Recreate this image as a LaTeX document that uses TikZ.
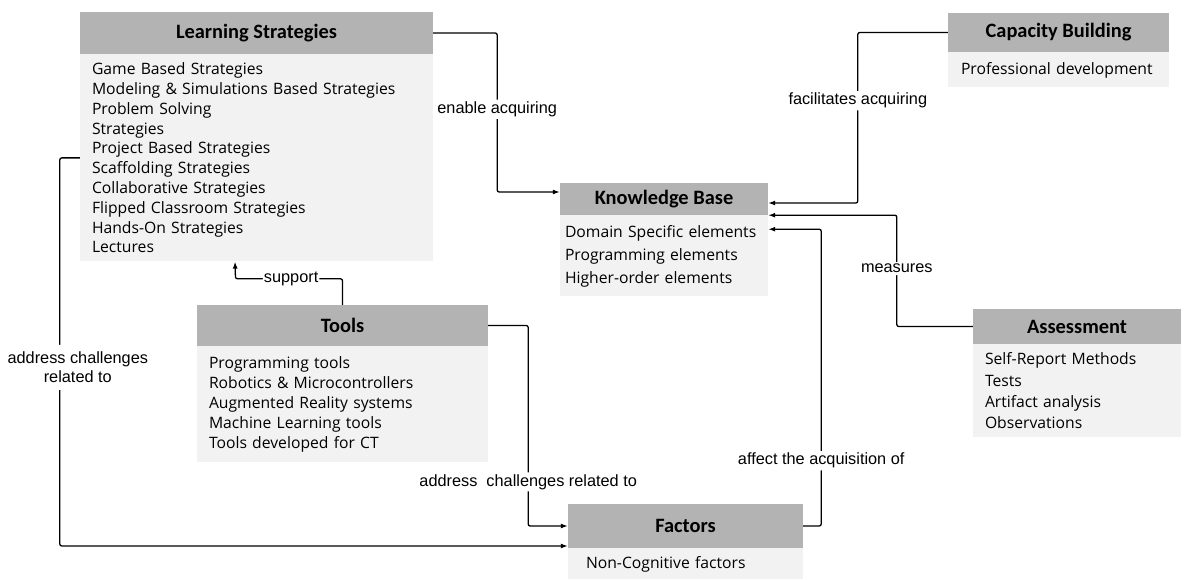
\documentclass[tikz,border=0pt]{standalone}
\usepackage{fontspec}
\usepackage{tikz}
\usetikzlibrary{arrows.meta,positioning}
\setmainfont{Liberation Sans}
\newfontfamily\boxfont{Open Sans}
\newfontfamily\headfont{Carlito}
\definecolor{headgray}{HTML}{B3B3B3}
\definecolor{bodygray}{HTML}{F2F2F2}
\tikzset{%
  >={Latex[width=5pt,length=7pt]},
  % Specifications for style of nodes:
      head/.style = {rectangle, fill=headgray, inner sep=0pt,
                     minimum height=#1, text centered,
                     font=\headfont\bfseries\fontsize{20.4}{24}\selectfont},
      body/.style = {rectangle, fill=bodygray, inner xsep=12pt, inner ysep=0pt,
                     align=left, anchor=north,
                     font=\boxfont\fontsize{15.7}{19.8}\selectfont},
      conn/.style = {->, line width=1.3pt, rounded corners=2pt},
     label/.style = {fill=white, inner sep=2pt,
                     font=\fontsize{16.3}{19}\selectfont},
}

\begin{document}
\begin{tikzpicture}[x=1pt, y=-1pt]
  \useasboundingbox (0,0) rectangle (1185,580);
  % Specification of nodes (header and list of each box)
  \node (lsHead) [head=42pt, minimum width=353pt] at (256.5,33) {Learning Strategies};
  \node (lsBody) [body, minimum height=207pt, text width=329pt, below=0pt of lsHead]
    {Game Based Strategies\\Modeling \& Simulations Based Strategies\\Problem Solving\\Strategies\\
     Project Based Strategies\\Scaffolding Strategies\\Collaborative Strategies\\
     Flipped Classroom Strategies\\Hands-On Strategies\\Lectures};
  \node (kbHead) [head=32pt, minimum width=208pt] at (664,199) {Knowledge Base};
  \node (kbBody) [body, minimum height=81pt, text width=198pt, inner xsep=5pt,
                  font=\boxfont\fontsize{15.7}{23}\selectfont, below=0pt of kbHead]
    {Domain Specific elements\\Programming elements\\Higher-order elements};
  \node (cbHead) [head=39pt, minimum width=221pt] at (1058.5,32.5) {Capacity Building};
  \node (cbBody) [body, minimum height=35pt, text width=195pt, inner xsep=13pt,
                  below=0pt of cbHead]
    {Professional development};
  \node (asHead) [head=35pt, minimum width=208pt] at (1077,326.5) {Assessment};
  \node (asBody) [body, minimum height=93pt, text width=184pt, below=0pt of asHead,
                  font=\boxfont\fontsize{15.7}{21.3}\selectfont]
    {Self-Report Methods\\Tests\\Artifact analysis\\Observations};
  \node (toHead) [head=41pt, minimum width=291pt] at (342.5,325.5) {Tools};
  \node (toBody) [body, minimum height=116pt, text width=267pt, below=0pt of toHead]
    {Programming tools\\Robotics \& Microcontrollers\\Augmented Reality systems\\
     Machine Learning tools\\Tools developed for CT\\[6pt]};
  \node (faHead) [head=44pt, minimum width=235pt] at (685.5,526) {Factors};
  \node (faBody) [body, minimum height=31pt, text width=199pt, inner xsep=18pt,
                  below=0pt of faHead]
    {Non-Cognitive factors};

  % Specification of lines between nodes specified above
  \draw[conn] (lsHead.east) -- ++(64,0) |- node[label, pos=0.24] {enable acquiring}
              ([yshift=7pt]kbHead.west);
  \draw[conn] (cbHead.west) -- ++(-90,0) |- node[label, pos=0.2] {facilitates acquiring}
              ([yshift=-4pt]kbHead.east);
  \draw[conn] (asHead.west) -- ++(-76,0) |- node[label, pos=0.26] {measures}
              (kbBody.north east);
  \draw[conn] (faHead.east) -- ++(18,0) |- node[label, pos=0.11] {affect the acquisition of}
              ([yshift=-14pt]kbBody.north east);
  \draw[conn] (toHead.north) |- node[label, pos=0.74, inner sep=1pt] {support}
              ++(-107,-26) -- ([xshift=-21.5pt]lsBody.south);
  \draw[conn] (toHead.east) -- ++(40,0) |- node[label, pos=0.39] {address\ \ challenges related to}
              (faHead.west);
  \draw[conn] (lsBody.west) -- ++(-20,0) |- node[label, pos=0.27, xshift=18pt, align=center,
              inner sep=7pt] {address challenges\\related to} ([yshift=-20pt]faHead.west);
\end{tikzpicture}
\end{document}
